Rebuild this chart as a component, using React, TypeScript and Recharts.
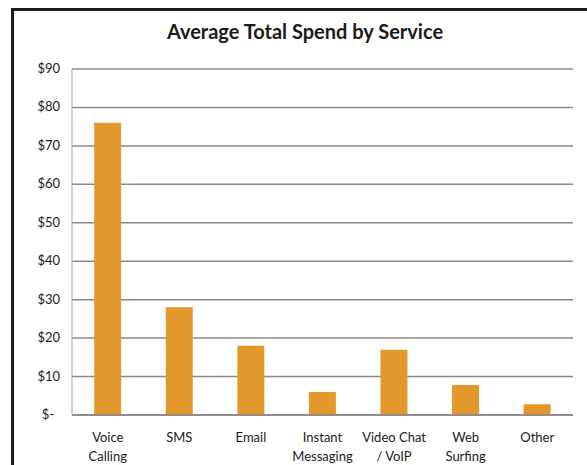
import { BarChart, Bar, XAxis, YAxis, CartesianGrid } from "recharts";

const categories = ["Voice\nCalling", "SMS", "Email", "Instant\nMessaging", "Video Chat\n/ VoIP", "Web\nSurfing", "Other"];
const spend = [76, 28, 18, 6, 17, 7.8, 2.8];
const yTicks = [0, 10, 20, 30, 40, 50, 60, 70, 80, 90];

const data = categories.map((name, i) => ({ name, spend: spend[i] }));

const FONT = "Lato, 'Open Sans', sans-serif";

const XTick = (props: any) => {
  const { x, y, payload } = props;
  const lines = String(payload.value).split("\n");
  return (
    <text x={x} y={y + 19} textAnchor="middle" fontFamily={FONT} fontSize={13} fill="#1a1a1a">
      {lines.map((line: string, i: number) => (
        <tspan key={i} x={x} dy={i === 0 ? 0 : 19}>
          {line}
        </tspan>
      ))}
    </text>
  );
};

const YTick = (props: any) => {
  const { x, y, payload } = props;
  const label = payload.value === 0 ? "$-" : `$${payload.value}`;
  return (
    <text
      x={payload.value === 0 ? x - 10 : x - 4}
      y={y + 4}
      textAnchor="end"
      fontFamily={FONT}
      fontSize={13}
      fill="#1a1a1a"
    >
      {label}
    </text>
  );
};

const App = () => {
  return (
    <div style={{ position: "absolute", left: 0, top: 0, width: 587, height: 465, background: "#fff", overflow: "hidden" }}>
      <style>{`html, body { margin: 0; overflow: hidden; }`}</style>
      <div
        style={{
          position: "absolute",
          left: 11,
          top: 8,
          width: 573,
          height: 454,
          borderLeft: "3px solid #1c1c1c",
          borderTop: "3px solid #1c1c1c",
        }}
      />
      <div
        style={{
          position: "absolute",
          left: 0,
          top: 19,
          width: 610,
          textAlign: "center",
          fontFamily: FONT,
          fontWeight: 700,
          fontSize: 20,
          color: "#1a1a1a",
        }}
      >
        Average Total Spend by Service
      </div>
      <div style={{ position: "absolute", left: 0, top: 0 }}>
        <BarChart
          width={587}
          height={465}
          data={data}
          margin={{ top: 69, right: 14, bottom: 20, left: 0 }}
          barCategoryGap="31%"
        >
          <CartesianGrid vertical={false} stroke="#8e8686" strokeWidth={1.5} />
          <XAxis
            dataKey="name"
            height={30}
            tick={<XTick />}
            tickLine={false}
            axisLine={{ stroke: "#8e8686", strokeWidth: 1.5 }}
            interval={0}
          />
          <YAxis
            width={72}
            domain={[0, 90]}
            ticks={yTicks}
            tick={<YTick />}
            tickLine={false}
            axisLine={{ stroke: "#a8a2a2", strokeWidth: 1 }}
          />
          <Bar dataKey="spend" fill="#E2982C" isAnimationActive={false} />
        </BarChart>
      </div>
    </div>
  );
};

export default App;
